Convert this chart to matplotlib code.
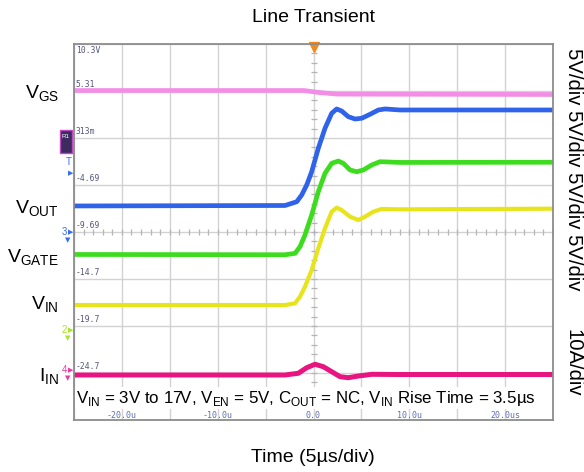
import numpy as np
import matplotlib
matplotlib.use("Agg")
import matplotlib.pyplot as plt
from matplotlib.patches import Rectangle

plt.rcParams['font.family'] = ['Liberation Sans', 'DejaVu Sans']
plt.rcParams['mathtext.fontset'] = 'custom'
plt.rcParams['mathtext.rm'] = 'Liberation Sans'

# Scope traces: time in us, display level in V (5V/div)
t_vgs = [-25, -1.0, 0.5, 2.5, 25]
v_vgs = [5.35, 5.35, 5.15, 4.97, 4.93]

t_vout = [-25, -2.97, -1.75, -1.23, -0.71, -0.19, 0.50, 1.20, 1.90, 2.42, 2.94,
          3.63, 4.33, 5.03, 5.90, 6.77, 7.47, 9.03, 25]
v_vout = [-6.93, -6.88, -6.48, -5.76, -4.70, -3.29, -0.80, 1.33, 2.93, 3.39, 3.17,
          2.57, 2.32, 2.40, 2.82, 3.28, 3.39, 3.28, 3.28]

t_vgate = [-25, -2.97, -1.93, -1.41, -0.89, -0.19, 0.50, 1.20, 1.90, 2.59, 3.11,
           3.81, 4.51, 5.20, 6.08, 6.94, 9.03, 25]
v_vgate = [-12.09, -12.12, -11.97, -11.26, -10.02, -7.89, -5.41, -3.46, -2.39, -2.15, -2.39,
           -3.10, -3.29, -3.10, -2.57, -2.22, -2.30, -2.28]

t_vin = [-25, -2.97, -1.93, -1.41, -0.89, -0.19, 0.50, 1.20, 1.90, 2.42, 2.94,
         3.81, 4.68, 5.38, 6.24, 7.12, 9.03, 25]
v_vin = [-17.47, -17.47, -17.29, -16.58, -15.52, -13.74, -11.43, -9.31, -7.54, -7.11, -7.36,
         -8.07, -8.42, -8.07, -7.54, -7.25, -7.29, -7.22]

t_iin = [-25, -2.97, -1.59, -0.71, 0.16, 1.02, 1.90, 2.77, 3.63, 4.68, 6.08, 9.03, 25]
v_iin = [-24.91, -24.91, -24.73, -24.14, -23.77, -24.03, -24.56, -25.09, -25.20, -25.02,
         -24.84, -24.86, -24.86]

# scope graticule labels
y_div_labels = ["10.3V", "5.31", "313m", "-4.69", "-9.69", "-14.7", "-19.7", "-24.7"]
x_div_pos = [-20, -10, 0, 10, 20]
x_div_labels = ["-20.0u", "-10.0u", "0.0", "10.0u", "20.0us"]

W, H = 584, 472
fig = plt.figure(figsize=(W / 100, H / 100), dpi=100)
ax = fig.add_axes([74 / W, 52 / H, 479 / W, 376 / H])

ytop = 10.3
ax.set_xlim(-25, 25)
ax.set_ylim(ytop - 40, ytop)
ax.set_xticks(np.arange(-25, 26, 5))
ax.set_yticks(ytop - 5 * np.arange(9))
ax.grid(True, color='#d2d2d2', lw=1.0)
ax.tick_params(length=0, labelbottom=False, labelleft=False)
for s in ax.spines.values():
    s.set_color('#8c8c8c')
    s.set_linewidth(1.3)

# minor ticks on the centre lines
mx = np.arange(-25, 25.01, 1.0)
ax.plot(mx, np.full_like(mx, ytop - 20), ls='none', marker='|', ms=4,
        color='#b5b5b5', mew=0.9)
my = ytop - np.arange(1, 38.01, 1.0)
ax.plot(np.zeros_like(my), my, ls='none', marker='_', ms=4, color='#b5b5b5', mew=0.9)

ax.plot(t_vgs, v_vgs, color='#f38de6', lw=3.4)
ax.plot(t_vout, v_vout, color='#2f63ea', lw=3.4)
ax.plot(t_vgate, v_vgate, color='#3ddc1f', lw=3.4)
ax.plot(t_vin, v_vin, color='#e8e41c', lw=3.0)
ax.plot(t_iin, v_iin, color='#e8147f', lw=3.6)

# trigger marker
ax.plot([0], [ytop - 0.3], marker='v', ms=7, color='#f08a20', clip_on=False)

# graticule value labels
for k, lab in enumerate(y_div_labels):
    if k == 0:
        ax.text(0.004, 1 - 0.004, lab, transform=ax.transAxes, ha='left', va='top',
                fontsize=5.8, family='DejaVu Sans Mono', color='#55557f')
    else:
        ax.text(-24.8, ytop - 5 * k + 0.25, lab, ha='left', va='bottom',
                fontsize=5.8, family='DejaVu Sans Mono', color='#55557f')
for x, lab in zip(x_div_pos, x_div_labels):
    ax.text(x, 0.013, lab, transform=ax.get_xaxis_transform(), ha='center',
            va='center', fontsize=6, family='DejaVu Sans Mono', color='#5f6fb0')

ax.text(0.484, 0.0585,
        'V$_{\\mathregular{IN}}$ = 3V to 17V, V$_{\\mathregular{EN}}$ = 5V, '
        'C$_{\\mathregular{OUT}}$ = NC, V$_{\\mathregular{IN}}$ Rise Time = 3.5µs',
        transform=ax.transAxes, ha='center', va='center', fontsize=12.2,
        bbox=dict(facecolor='white', edgecolor='none', pad=1))

# channel markers on the left edge
fig.patches.append(Rectangle((60 / W, 1 - 153 / H), 12 / W, 23 / H, transform=fig.transFigure,
                             facecolor='#3b2b5e', edgecolor='#c048c0', lw=1.0))
fig.text(66 / W, 1 - 137 / H, 'R1', fontsize=4.5, color='white', ha='center', va='center')
fig.text(69 / W, 1 - 162 / H, 'T', fontsize=7, color='#3a6cf0', ha='center', va='center')
fig.text(71 / W, 1 - 173 / H, '▶', fontsize=5, color='#3a6cf0', ha='center', va='center',
         family='DejaVu Sans')
for yy, lab, c in [(232, '3', '#3a6cf0'), (330, '2', '#a6e626'), (370, '4', '#ee3aa0')]:
    fig.text(64 / W, 1 - yy / H, lab, fontsize=7, color=c, ha='center', va='center')
    fig.text(71 / W, 1 - yy / H, '▶', fontsize=5, color=c, ha='center', va='center',
             family='DejaVu Sans')
    fig.text(68 / W, 1 - (yy + 8) / H, '▼', fontsize=5, color=c, ha='center', va='center',
             family='DejaVu Sans')

# titles and trace labels
fig.text(313 / W, 1 - 17 / H, 'Line Transient', ha='center', va='center', fontsize=14)
fig.text(313 / W, 1 - 457 / H, 'Time (5µs/div)', ha='center', va='center', fontsize=14)

for yy, main, sub in [(93.5, 'V', 'GS'), (209, 'V', 'OUT'), (257.5, 'V', 'GATE'),
                      (305, 'V', 'IN'), (377, 'I', 'IN')]:
    fig.text(59 / W, 1 - yy / H, main + '$_{\\mathregular{' + sub + '}}$',
             ha='right', va='center', fontsize=14)

fig.text(573 / W, 1 - 169 / H, '5V/div 5V/div 5V/div 5V/div', rotation=270,
         ha='center', va='center', fontsize=14.6)
fig.text(573 / W, 1 - 363 / H, '10A/div', rotation=270, ha='center', va='center',
         fontsize=14.6)

fig.savefig('out.png', dpi=100)
